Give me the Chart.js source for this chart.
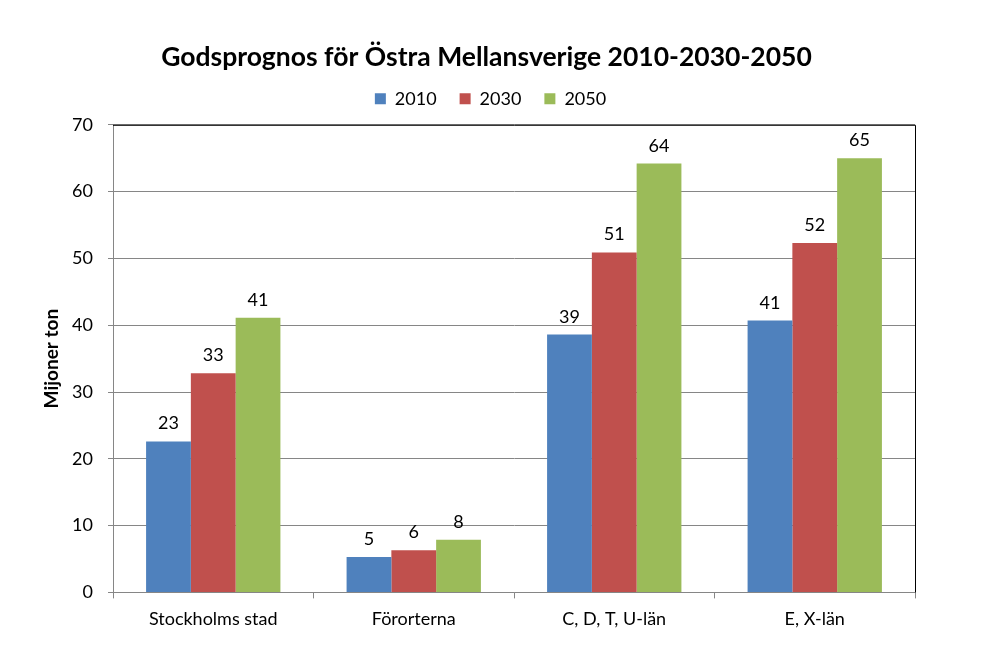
<!DOCTYPE html>
<html>
<head>
<meta charset="utf-8">
<script src="https://cdn.jsdelivr.net/npm/chart.js@4.4.0/dist/chart.umd.min.js"></script>
<style>
  html, body { margin: 0; padding: 0; background: #fff; }
  #wrap { width: 1003px; height: 670px; }
</style>
</head>
<body>
<div id="wrap"><canvas id="chart"></canvas></div>
<script>
// Regioner och prognosvärden (miljoner ton)
const regions = ['Stockholms stad', 'Förorterna', 'C, D, T, U-län', 'E, X-län'];
const values2010 = [22.6, 5.3, 38.6, 40.7];
const values2030 = [32.8, 6.3, 50.9, 52.3];
const values2050 = [41.1, 7.9, 64.2, 65.0];
const yTicks = [0, 10, 20, 30, 40, 50, 60, 70];

const font = 'Lato, "Open Sans", sans-serif';

// Värdeetiketter ovanför staplarna
const barLabels = {
    id: 'barLabels',
    afterDatasetsDraw(chart) {
        const ctx = chart.ctx;
        ctx.save();
        ctx.font = '18px ' + font;
        ctx.fillStyle = '#000';
        ctx.textAlign = 'center';
        ctx.textBaseline = 'alphabetic';
        chart.data.datasets.forEach((ds, i) => {
            chart.getDatasetMeta(i).data.forEach((bar, j) => {
                ctx.fillText(Math.round(ds.data[j]), bar.x, bar.y - 12);
            });
        });
        ctx.restore();
    }
};

// Flytta titel och förklaring så de hamnar som i originalet
const shiftHeader = {
    id: 'shiftHeader',
    afterLayout(chart) {
        const t = chart.titleBlock;
        if (t) { t.left += 29; t.right += 29; }
        const l = chart.legend;
        if (l) { l.left += 33; l.right += 33; l.top -= 7; l.bottom -= 7; }
    }
};

// Svart ram upptill och till höger om diagramytan
const plotFrame = {
    id: 'plotFrame',
    afterDraw(chart) {
        const a = chart.chartArea;
        const ctx = chart.ctx;
        ctx.save();
        ctx.strokeStyle = '#000';
        ctx.lineWidth = 1;
        ctx.beginPath();
        ctx.moveTo(a.left, a.top + 0.5);
        ctx.lineTo(a.right + 0.5, a.top + 0.5);
        ctx.lineTo(a.right + 0.5, a.bottom);
        ctx.stroke();
        ctx.restore();
    }
};

const ctx = document.getElementById('chart').getContext('2d');
new Chart(ctx, {
    type: 'bar',
    data: {
        labels: regions,
        datasets: [
            { label: '2010', data: values2010, backgroundColor: '#4F81BD' },
            { label: '2030', data: values2030, backgroundColor: '#C0504D' },
            { label: '2050', data: values2050, backgroundColor: '#9BBB59' }
        ]
    },
    options: {
        responsive: true,
        maintainAspectRatio: false,
        animation: false,
        layout: { padding: { left: 0, right: 88, top: 0, bottom: 30 } },
        datasets: { bar: { categoryPercentage: 0.67, barPercentage: 1.0 } },
        plugins: {
            title: {
                display: true,
                text: 'Godsprognos för Östra Mellansverige 2010-2030-2050',
                color: '#000',
                font: { family: font, size: 26.5, weight: 'bold' },
                padding: { top: 42, bottom: 0 }
            },
            legend: {
                display: true,
                labels: {
                    color: '#000',
                    font: { family: font, size: 18 },
                    boxWidth: 11,
                    boxHeight: 11,
                    padding: 23
                }
            },
            tooltip: { enabled: false }
        },
        scales: {
            x: {
                grid: {
                    offset: true,
                    drawOnChartArea: false,
                    drawTicks: true,
                    tickLength: 6,
                    color: '#868686'
                },
                border: { color: '#868686' },
                ticks: { color: '#000', font: { family: font, size: 18 }, padding: 10 }
            },
            y: {
                min: 0,
                max: 70,
                afterBuildTicks(scale) {
                    scale.ticks = yTicks.map(v => ({ value: v }));
                },
                afterFit(scale) { scale.width = 113; },
                grid: { color: '#868686', tickLength: 5 },
                border: { color: '#868686' },
                ticks: { color: '#000', font: { family: font, size: 18 }, padding: 15 },
                title: {
                    display: true,
                    text: 'Mijoner ton',
                    color: '#000',
                    font: { family: font, size: 19, weight: 'bold' },
                    padding: { top: 40, bottom: 0 }
                }
            }
        }
    },
    plugins: [barLabels, shiftHeader, plotFrame]
});
</script>
</body>
</html>
